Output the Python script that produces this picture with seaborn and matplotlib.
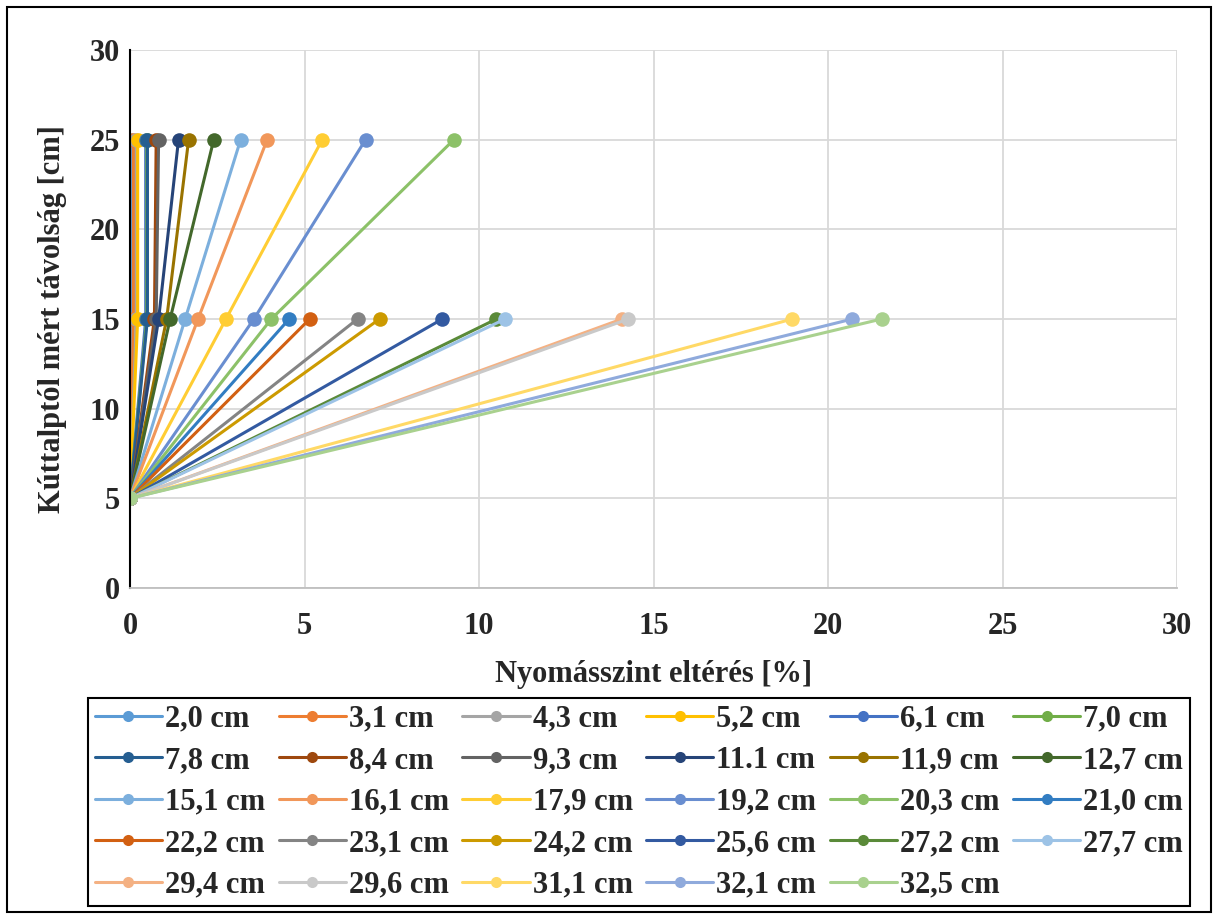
import numpy as np
import pandas as pd
import matplotlib
matplotlib.use("Agg")
import matplotlib.pyplot as plt
from matplotlib.patches import Rectangle
import seaborn as sns

# Series names (distance of the measuring point)
series = ["2,0 cm", "3,1 cm", "4,3 cm", "5,2 cm", "6,1 cm", "7,0 cm",
          "7,8 cm", "8,4 cm", "9,3 cm", "11.1 cm", "11,9 cm", "12,7 cm",
          "15,1 cm", "16,1 cm", "17,9 cm", "19,2 cm", "20,3 cm", "21,0 cm",
          "22,2 cm", "23,1 cm", "24,2 cm", "25,6 cm", "27,2 cm", "27,7 cm",
          "29,4 cm", "29,6 cm", "31,1 cm", "32,1 cm", "32,5 cm"]

# Distances from the well bottom [cm]
depths = [5, 15, 25]

# Pressure level deviation [%] at 5 cm, 15 cm and 25 cm
dev_5 = [0.0] * 29
dev_15 = [0.0, 0.1, 0.18, 0.22, 0.45, 0.48,
          0.5, 0.7, 0.75, 0.82, 1.05, 1.15,
          1.58, 1.95, 2.75, 3.55, 4.05, 4.56,
          5.15, 6.52, 7.15, 8.95, 10.5, 10.75,
          14.1, 14.28, 18.98, 20.7, 21.54]
dev_25 = [0.0, 0.1, 0.18, 0.22, 0.45, 0.48,
          0.5, 0.75, 0.82, 1.39, 1.68, 2.4,
          3.17, 3.93, 5.51, 6.75, 9.28, np.nan,
          np.nan, np.nan, np.nan, np.nan, np.nan, np.nan,
          np.nan, np.nan, np.nan, np.nan, np.nan]

colors = ["#5B9BD5", "#ED7D31", "#A5A5A5", "#FFC000", "#4472C4", "#70AD47",
          "#255E91", "#9E480E", "#636363", "#264478", "#997300", "#43682B",
          "#7CAFDD", "#F1975A", "#FFCD33", "#698ED0", "#8CC168", "#327DC2",
          "#D26012", "#848484", "#CC9A00", "#335AA1", "#5A8A39", "#9DC3E6",
          "#F4B183", "#C9C9C9", "#FFD966", "#8FAADC", "#A9D18E"]

rows = []
for i, name in enumerate(series):
    for d, v in zip(depths, (dev_5[i], dev_15[i], dev_25[i])):
        if not np.isnan(v):
            rows.append({"series": name, "dev": v, "depth": d})
df = pd.DataFrame(rows)

sns.set_theme(style="white")
plt.rcParams["font.family"] = ["Liberation Serif", "DejaVu Serif"]
plt.rcParams["font.weight"] = "bold"

FS = 22
W, H = 1218, 915
fig = plt.figure(figsize=(W / 100, H / 100), dpi=100)
ax = fig.add_axes([130 / W, 1 - 588 / H, (1177 - 130) / W, (588 - 50) / H])

sns.lineplot(data=df, x="dev", y="depth", hue="series", hue_order=series,
             palette=colors, units="series", estimator=None, sort=False,
             marker="o", markersize=10.5, markeredgewidth=0, linewidth=2.2,
             ax=ax, legend=True)

ax.set_xlim(0, 30)
ax.set_ylim(0, 30)
ax.set_xticks(range(0, 31, 5))
ax.set_yticks(range(0, 31, 5))
ax.grid(True, color="#D9D9D9", linewidth=1.3)
ax.set_axisbelow(True)
for s in ["top", "right"]:
    ax.spines[s].set_visible(False)
ax.spines["left"].set_color("black")
ax.spines["left"].set_linewidth(1.5)
ax.spines["bottom"].set_color("#BFBFBF")
ax.spines["bottom"].set_linewidth(1.3)
ax.tick_params(axis="both", length=0, labelsize=FS)
ax.tick_params(axis="x", pad=17)
ax.tick_params(axis="y", pad=7)
for lab in ax.get_xticklabels() + ax.get_yticklabels():
    lab.set_fontweight("bold")

ax.set_xlabel("Nyomásszint eltérés [%]", fontsize=FS, fontweight="bold", labelpad=14)
ax.set_ylabel("Kúttalptól mért távolság [cm]", fontsize=FS, fontweight="bold", labelpad=16)

handles, labels = ax.get_legend_handles_labels()
ax.get_legend().remove()
for h in handles:
    h.set_markersize(8)

# legend entries read row by row across six columns
ncol = 6
nrow = int(np.ceil(len(labels) / ncol))
order = [r * ncol + c for c in range(ncol) for r in range(nrow) if r * ncol + c < len(labels)]
leg = fig.legend([handles[i] for i in order], [labels[i] for i in order],
                 ncol=ncol, loc="center", mode="expand",
                 bbox_to_anchor=(88 / W, 1 - 908 / H, (1190 - 88) / W, (908 - 696) / H),
                 frameon=True, fancybox=False, edgecolor="black", framealpha=1,
                 borderaxespad=0, handlelength=2.2, handletextpad=0.1,
                 labelspacing=0.41, columnspacing=0.25, borderpad=0.22,
                 prop={"family": "Liberation Serif", "weight": "bold", "size": FS})
leg.get_frame().set_linewidth(1.5)

fig.patches.append(Rectangle((7 / W, 3 / H), 1 - 14 / W, 1 - 10 / H,
                             transform=fig.transFigure, fill=False,
                             edgecolor="black", linewidth=1.5))

fig.savefig("out.png", dpi=100)
